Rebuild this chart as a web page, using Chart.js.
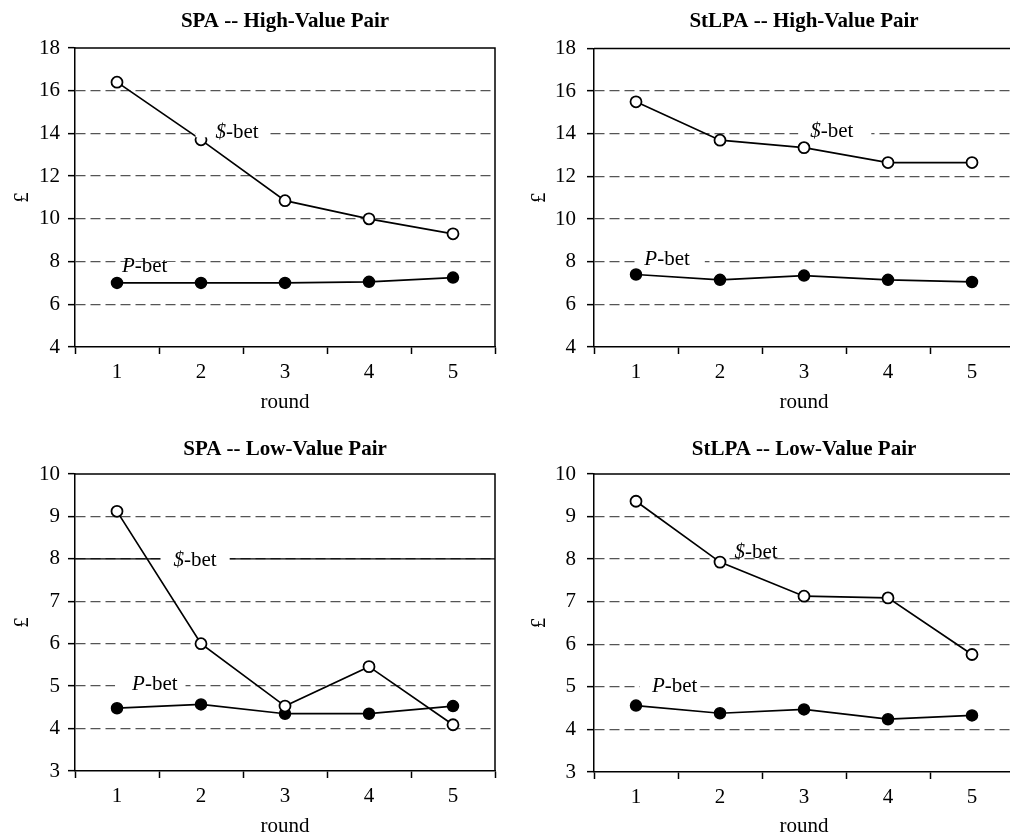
<!DOCTYPE html>
<html><head><meta charset="utf-8">
<script src="https://cdn.jsdelivr.net/npm/chart.js@4.4.0/dist/chart.umd.min.js"></script>
<style>
html,body{margin:0;padding:0;background:#fff;overflow:hidden;}
#wrap{width:1010px;height:836px;overflow:hidden;position:relative;}
canvas{position:absolute;display:block;}
</style></head>
<body>
<div id="wrap">
<canvas id="c1" width="505" height="418" style="left:0;top:0"></canvas>
<canvas id="c2" width="510" height="418" style="left:505px;top:0"></canvas>
<canvas id="c3" width="505" height="421" style="left:0;top:418px"></canvas>
<canvas id="c4" width="510" height="421" style="left:505px;top:418px"></canvas>
</div>
<script>
// ---- data ----
const rounds = ['1', '2', '3', '4', '5'];
const spaHighDollar   = [16.4, 13.7, 10.85, 10.0, 9.3];
const spaHighP        = [7.0, 7.0, 7.0, 7.05, 7.25];
const stlpaHighDollar = [15.5, 13.7, 13.35, 12.65, 12.65];
const stlpaHighP      = [7.4, 7.15, 7.35, 7.15, 7.05];
const spaLowDollar    = [9.12, 6.0, 4.53, 5.46, 4.09];
const spaLowP         = [4.48, 4.57, 4.35, 4.35, 4.53];
const stlpaLowDollar  = [9.36, 7.93, 7.13, 7.09, 5.76];
const stlpaLowP       = [4.56, 4.38, 4.47, 4.24, 4.33];
const titles = ['SPA -- High-Value Pair', 'StLPA -- High-Value Pair', 'SPA -- Low-Value Pair', 'StLPA -- Low-Value Pair'];
const highRange = [4, 18, 2];
const lowRange = [3, 10, 1];
const xTitle = 'round';
const yTitle = '£';

const FONT = "'Liberation Serif', 'Times New Roman', serif";
const FS = 21;
Chart.defaults.font.family = FONT;
Chart.defaults.color = '#000';

const framePlugin = {
  id: 'frame',
  afterDatasetsDraw(chart, args, opts) {
    const {ctx, chartArea: a, scales} = chart;
    ctx.save();
    ctx.strokeStyle = '#000';
    ctx.lineWidth = 1.5;
    ctx.beginPath();
    ctx.moveTo(a.left, a.top);
    ctx.lineTo(a.right, a.top);
    ctx.lineTo(a.right, a.bottom);
    ctx.stroke();
    (opts.solid || []).forEach(v => {
      const y = scales.y.getPixelForValue(v);
      ctx.lineWidth = 1.3;
      ctx.beginPath(); ctx.moveTo(a.left, y); ctx.lineTo(a.right, y); ctx.stroke();
    });
    ctx.restore();
  }
};

const labelPlugin = {
  id: 'betLabels',
  afterDatasetsDraw(chart, args, opts) {
    const {ctx, scales} = chart;
    ctx.save();
    (opts.items || []).forEach(it => {
      const cx = scales.x.getPixelForValue(it.x);
      const cy = scales.y.getPixelForValue(it.y);
      ctx.font = 'italic ' + FS + 'px ' + FONT;
      const w1 = ctx.measureText(it.a).width;
      ctx.font = FS + 'px ' + FONT;
      const w2 = ctx.measureText(it.b).width;
      const w = w1 + w2;
      const x0 = cx - w / 2;
      ctx.fillStyle = '#fff';
      ctx.fillRect(x0 - it.pl, cy - 5, w + it.pl + it.pr, 10);
      ctx.fillStyle = '#000';
      ctx.textBaseline = 'middle';
      ctx.textAlign = 'left';
      ctx.font = 'italic ' + FS + 'px ' + FONT;
      ctx.fillText(it.a, x0, cy);
      ctx.font = FS + 'px ' + FONT;
      ctx.fillText(it.b, x0 + w1, cy);
    });
    ctx.restore();
  }
};

function makeChart(id, title, dollar, pbet, range, g, labels, solid) {
  const [mn, mx, st] = range;
  return new Chart(document.getElementById(id), {
    type: 'line',
    data: {
      labels: rounds,
      datasets: [
        { label: '$-bet', data: dollar, borderColor: '#000', borderWidth: 1.7, tension: 0,
          pointRadius: 5.5, pointHoverRadius: 5.5, pointBackgroundColor: '#fff', pointBorderColor: '#000', pointBorderWidth: 1.8 },
        { label: 'P-bet', data: pbet, borderColor: '#000', borderWidth: 1.7, tension: 0,
          pointRadius: 5.5, pointHoverRadius: 5.5, pointBackgroundColor: '#000', pointBorderColor: '#000', pointBorderWidth: 1.5 }
      ]
    },
    options: {
      responsive: false,
      animation: false,
      layout: { autoPadding: false, padding: { left: 0, right: g.pr, top: 0, bottom: 0 } },
      plugins: {
        legend: { display: false },
        tooltip: { enabled: false },
        title: { display: true, text: title, fullSize: false, color: '#000',
          font: { family: FONT, size: 21, weight: 'bold', lineHeight: 1.2 },
          padding: { top: g.tt, bottom: g.tb } },
        frame: { solid: solid },
        betLabels: { items: labels }
      },
      scales: {
        x: {
          type: 'category',
          offset: true,
          afterFit(s) { s.height = g.xh; s.paddingLeft = 0; s.paddingRight = 0; },
          grid: { display: true, drawOnChartArea: false, drawTicks: true, tickLength: 7, offset: true,
                  tickColor: '#000', tickWidth: 1.5 },
          border: { display: true, color: '#000', width: 1.5 },
          ticks: { color: '#000', padding: g.xp, font: { family: FONT, size: FS }, maxRotation: 0 },
          title: { display: true, text: xTitle, color: '#000', font: { family: FONT, size: FS, lineHeight: 1.2 },
                   padding: { top: 0, bottom: g.rb } }
        },
        y: {
          min: mn, max: mx,
          afterFit(s) { s.width = g.yw; },
          grid: {
            color: c => (c.tick && (c.tick.value === mn || c.tick.value === mx)) ? 'rgba(0,0,0,0)' : '#555',
            lineWidth: 1.3,
            drawTicks: true, tickLength: 7, tickColor: '#000', tickWidth: 1.5, tickBorderDash: []
          },
          border: { display: true, color: '#000', width: 1.5, dash: [10, 5] },
          ticks: { stepSize: st, color: '#000', padding: g.yp, font: { family: FONT, size: FS } },
          title: { display: true, text: yTitle, color: '#000', font: { family: FONT, size: FS, lineHeight: 1.2 },
                   padding: { top: g.yt, bottom: 0 } }
        }
      }
    },
    plugins: [framePlugin, labelPlugin]
  });
}

makeChart('c1', titles[0], spaHighDollar, spaHighP, highRange,
  { pr: 10, tt: 9.4, tb: 13.4, xh: 71, xp: 5.4, rb: 3.4, yw: 75, yp: 8, yt: 10 },
  [ { x: 1.43, y: 14.05, a: '$', b: '-bet', pl: 20, pr: 9 },
    { x: 0.33, y: 7.75, a: 'P', b: '-bet', pl: 7, pr: 14 } ], []);

makeChart('c2', titles[1], stlpaHighDollar, stlpaHighP, highRange,
  { pr: 1, tt: 9.4, tb: 13.9, xh: 71, xp: 5.4, rb: 3.4, yw: 89, yp: 11, yt: 22 },
  [ { x: 2.33, y: 14.12, a: '$', b: '-bet', pl: 12, pr: 18 },
    { x: 0.37, y: 8.12, a: 'P', b: '-bet', pl: 8, pr: 15 } ], []);

makeChart('c3', titles[2], spaLowDollar, spaLowP, lowRange,
  { pr: 10, tt: 19.4, tb: 11.4, xh: 68, xp: 5.4, rb: 0, yw: 75, yp: 8, yt: 10 },
  [ { x: 0.93, y: 7.95, a: '$', b: '-bet', pl: 13, pr: 13 },
    { x: 0.45, y: 5.03, a: 'P', b: '-bet', pl: 17, pr: 8 } ], [8]);

makeChart('c4', titles[3], stlpaLowDollar, stlpaLowP, lowRange,
  { pr: 1, tt: 19.4, tb: 11.4, xh: 67, xp: 5.4, rb: 0, yw: 89, yp: 11, yt: 22 },
  [ { x: 1.43, y: 8.15, a: '$', b: '-bet', pl: 10, pr: 14 },
    { x: 0.46, y: 5.02, a: 'P', b: '-bet', pl: 12, pr: 3 } ], []);
</script>
</body></html>
